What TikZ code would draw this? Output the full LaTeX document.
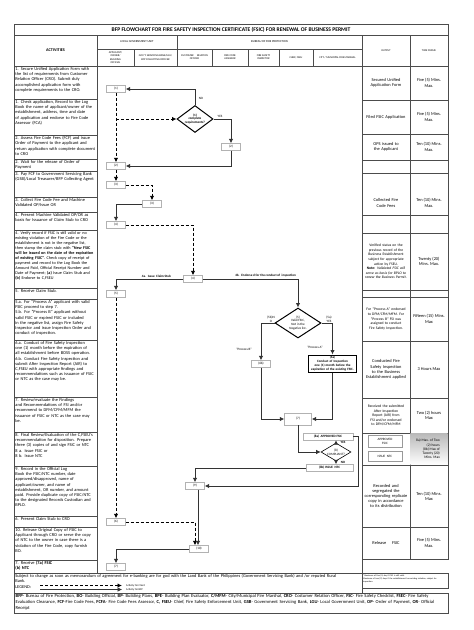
\documentclass[tikz,border=0pt]{standalone}
\usepackage{fontspec}
\setmainfont{Carlito}
\usetikzlibrary{shapes.geometric, arrows.meta, positioning, calc}
\hyphenpenalty=10000
\exhyphenpenalty=10000
\newcommand{\acttext}{\fontsize{4.4}{5.2}\selectfont}
\newcommand{\flowtext}{\fontsize{3.3}{3.9}\selectfont}
\newcommand{\headtext}{\fontsize{2.7}{3.2}\selectfont}
\newcommand{\notetext}{\fontsize{2.2}{2.7}\selectfont}

\begin{document}
\begin{tikzpicture}[x=1pt, y=-1pt,
  gridline/.style={draw=black!70, line width=0.6pt},
  act/.style={anchor=north west, text width=80pt, align=left, inner sep=1.2pt, font=\acttext},
  outp/.style={text width=44pt, align=center, inner sep=0pt, font=\acttext},
  tframe/.style={align=center, inner sep=0pt, font=\acttext},
  colhead/.style={align=center, inner sep=0pt, font=\headtext},
  stepbox/.style={draw=black!30, fill=white, minimum width=19pt, minimum height=7pt, inner sep=0.5pt, font=\flowtext},
  decide/.style={diamond, draw, line width=1pt, inner sep=0pt, align=center, font=\flowtext},
  client/.style={densely dashed, line width=0.9pt, -{Latex[length=4.5pt, width=4.5pt]}},
  bfp/.style={line width=0.8pt, draw=black!80, -{Latex[length=4.5pt, width=4.5pt]}},
  lbl/.style={font=\flowtext, inner sep=0.5pt}
]
\useasboundingbox (0,0) rectangle (474,630);

\draw[gridline] (14,24) rectangle (448,35);
\node[font=\fontsize{5.6}{6.5}\selectfont\bfseries] (title) at (231,29.5) {BFP FLOWCHART FOR FIRE SAFETY INSPECTION CERTIFICATE (FSIC) FOR RENEWAL OF BUSINESS PERMIT};

\draw[gridline] (14,35) rectangle (448,66);
\draw[gridline] (97,35) -- (97,573) (177,35) -- (177,66) (362,35) -- (362,573) (410,35) -- (410,559);
\draw[gridline] (97,49) -- (362,49);
\foreach \x in {134,212,248,279,313} \draw[gridline] (\x,49) -- (\x,66);
\draw[gridline] (14,66) -- (14,573) -- (362,573);
\draw[gridline] (448,66) -- (448,559) -- (362,559);
\foreach \y in {99,135,159,171,197,212,230,288,299,340,397,432,466,516,527,560}
  \draw[gridline] (14,\y) -- (97,\y);
\foreach \y in {100,134,160,173,215,233,290,297,341,398,433,465,527}
  \draw[gridline] (362,\y) -- (448,\y);

\node[font=\fontsize{4.2}{5}\selectfont\bfseries] (hact) at (55.5,50.5) {ACTIVITIES};
\node[colhead, font=\fontsize{3}{3.5}\selectfont] (hlgu) at (137,42) {LOCAL GOVERNMENT UNIT};
\node[colhead, font=\fontsize{3}{3.5}\selectfont] (hbfp) at (269.5,42) {BUREAU OF FIRE PROTECTION};
\node[colhead] (happ) at (115.5,57.5) {APPLICANT/\\OWNER/\\BUILDING\\OFFICIAL};
\node[colhead] (hgsb) at (155.5,57.5) {GOV'T. SERVICING BANK/LGU/\\BFP COLLECTING OFFICER};
\node[colhead] (hcro) at (194.5,57.5) {CUSTOMER \quad RELATION\\OFFICER};
\node[colhead] (hfca) at (230,57.5) {FIRE CODE\\ASSESSOR};
\node[colhead] (hfsi) at (263.5,57.5) {FIRE SAFETY\\INSPECTOR};
\node[colhead] (hfseu) at (296,57.5) {CHIEF, FSEU};
\node[colhead] (hfm) at (337.5,57.5) {CITY / MUNICIPAL FIRE MARSHAL};
\node[colhead] (hout) at (386,50.5) {OUTPUT};
\node[colhead] (htime) at (429,50.5) {TIME FRAME};

\node[act] (a1) at (14,66) {1. Secure Unified Application Form with the list of requirements from Customer Relation Officer (CRO). Submit duly accomplished application form with complete requirements to the CRO.};
\node[act] (a2) at (14,99) {1. Check application, Record to the Log Book the name of applicant/owner of the establishment, address, time and date of application and endorse to Fire Code Assessor (FCA)};
\node[act] (a3) at (14,135) {2. Assess Fire Code Fees (FCF) and issue Order of Payment to the applicant and return application with complete document to CRO};
\node[act] (a4) at (14,159) {2. Wait for the release of Order of Payment};
\node[act] (a5) at (14,171) {3. Pay FCF to Government Servicing Bank (GSB)/Local Treasurer/BFP Collecting Agent};
\node[act] (a6) at (14,197) {3. Collect Fire Code Fee and Machine Validated OP/Issue OR};
\node[act] (a7) at (14,212) {4. Present Machine Validated OP/OR as basis for Issuance of Claim Stub to CRO};
\node[act, font=\fontsize{4.2}{5}\selectfont] (a8) at (14,230) {4. Verify record if FSIC is still valid or no existing violation of the Fire Code or the establishment is not in the negative list, then stamp the claim stub with \textbf{``New FSIC will be issued on the date of the expiration of existing FSIC''}. Check copy of receipt of payment and record to the Log Book the Amount Paid, Official Receipt Number and Date of Payment; \textbf{(a)} Issue Claim Stub and \textbf{(b)} Endorse to C,FSEU};
\node[act] (a9) at (14,288) {5. Receive Claim Stub.};
\node[act] (a10) at (14,299) {5.a. For ``Process A'' applicant with valid FSIC proceed to step 7.\\5.b. For ``Process B'' applicant without valid FSIC or expired FSIC or included in the negative list, assign Fire Safety Inspector and issue Inspection Order and conduct of inspection.};
\node[act] (a11) at (14,340) {6.a. Conduct of Fire Safety Inspection one (1) month before the expiration of all establishment before BOSS operation.\\6.b. Conduct Fire Safety Inspection and submit After Inspection Report (AIR) to C,FSEU with appropriate findings and recommendations such as issuance of FSIC or NTC as the case may be.};
\node[act] (a12) at (14,397) {7. Review/evaluate the Findings and Recommendations of FSI and/or recommend to DFM/CFM/MFM the issuance of FSIC or NTC as the case may be.};
\node[act] (a13) at (14,432) {8. Final Review/Evaluation of the C,FSEU's recommendation for disposition. Prepare three (3) copies of and sign FSIC or NTC\\8 a. Issue FSIC or\\8 b. Issue NTC};
\node[act] (a14) at (14,466) {9. Record in the Official Log Book the FSIC/NTC number, date approved/disapproved, name of applicant/owner, and name of establishment, OR number, and amount paid. Provide duplicate copy of FSIC/NTC to the designated Records Custodian and BPLO.};
\node[act] (a15) at (14,516) {6. Present Claim Stub to CRO};
\node[act] (a16) at (14,527) {10. Release Original Copy of FSIC to Applicant through CRO or serve the copy of NTC to the owner in case there is a violation of the Fire Code, copy furnish BO.};
\node[act] (a17) at (14,560) {7. Receive \textbf{(7a) FSIC}\\\textbf{(b) NTC}};

\node[outp] (o1) at (386,83) {Secured Unified Application Form};
\node[tframe] (t1) at (429,83) {Five (5) Mins.\\Max.};
\node[outp] (o2) at (386,117) {Filed FSIC Application};
\node[tframe] (t2) at (429,117) {Five (5) Mins.\\Max.};
\node[outp] (o3) at (386,147) {OPS issued to the Applicant};
\node[tframe] (t3) at (429,147) {Ten (10) Mins.\\Max.};
\node[outp] (o5) at (386,203) {Collected Fire Code Fees};
\node[tframe] (t5) at (429,203) {Ten (10) Mins.\\Max.};
\node[outp, font=\fontsize{3.7}{4.6}\selectfont] (o7) at (386,261.5) {Verified status on the previous record of the Business Establishment subject for appropriate action by FSEU.\\\textbf{Note:} \textit{Validated FSIC will serve as basis for BPLO to renew the Business Permit.}};
\node[tframe] (t7) at (429,261.5) {Twenty (20)\\Mins. Max.};
\node[outp, font=\fontsize{3.7}{4.6}\selectfont] (o9) at (386,319) {For ``Process A'' endorsed to DFM/CFM/MFM. For ``Process B'' FSI was assigned to conduct Fire Safety Inspection.};
\node[tframe] (t9) at (429,319) {Fifteen (15) Mins.\\Max};
\node[outp] (o10) at (386,369.5) {Conducted Fire Safety Inspection to the Business Establishment applied};
\node[tframe] (t10) at (429,369.5) {3 Hours Max};
\node[outp, font=\fontsize{3.7}{4.6}\selectfont] (o11) at (386,415.5) {Received the submitted After Inspection Report (AIR) from FSI and/or endorsed to DFM/CFM/MFM};
\node[tframe] (t11) at (429,415.5) {Two (2) hours\\Max};
\node[draw=black!40, minimum width=34pt, minimum height=12pt, inner sep=0.5pt, align=center, font=\flowtext] (apfsic) at (385,441) {APPROVED\\FSIC};
\node[draw=black!40, minimum width=34pt, minimum height=10pt, inner sep=0.5pt, font=\flowtext] (isntc) at (385,456.5) {ISSUE \ NTC};
\shade[top color=gray!55, bottom color=white] (410.3,433.3) rectangle (447.7,464.7);
\node[tframe, align=right, font=\fontsize{3.6}{4.3}\selectfont] (t12) at (428,449) {8a) Max. of Two\\(2) hours\\(8b) Max of\\Twenty (20)\\Mins. Max};
\node[outp] (o13) at (386,496) {Recorded and segregated the corresponding replicate copy in accordance to its distribution};
\node[tframe] (t13) at (429,496) {Ten (10) Mins.\\Max};
\node[outp] (o14) at (386,543) {Release \quad FSIC};
\node[tframe] (t14) at (429,543) {Five (5) Mins.\\Max.};

\node[stepbox] (b1) at (116,89) {(1)};
\node[decide, aspect=1.4, minimum width=36pt, minimum height=27pt, font=\flowtext\bfseries] (d1) at (195,119) {(1)\\complete\\requirements?};
\node[stepbox] (fca2) at (231,147) {(2)};
\node[stepbox] (b2) at (116,166) {(2)};
\node[stepbox] (b3) at (116,185) {(3)};
\node[stepbox] (gsb3) at (152,204) {(3)};
\node[stepbox] (b4) at (116,225) {(4)};
\node[stepbox] (cro4) at (193,279) {(4)};
\node[stepbox] (b5) at (116,294) {(5)};
\node[decide, aspect=1.5, minimum width=46pt, minimum height=30pt] (d5) at (298,323) {(5)\\Valid FSIC,\\Not in the\\Negative list.};
\node[stepbox] (b6b) at (261,364) {(6b)};
\node[draw, line width=0.9pt, text width=46pt, align=center, inner sep=1.2pt, font=\flowtext\bfseries] (b6a) at (332.5,363.5) {(6a)\\Conduct of Inspection one (1) month before the expiration of the existing FSIC.};
\node[stepbox, minimum width=27pt, minimum height=12pt] (b7) at (298,419) {(7)};
\node[decide, line width=0.6pt, aspect=1.6, minimum width=30pt, minimum height=18pt] (d8) at (336,452) {(8)\\COMPLIANT?};
\node[stepbox, minimum width=50pt, font=\flowtext\bfseries] (b8a) at (328,436.5) {(8a) \ APPROVED FSIC};
\node[stepbox, minimum width=47pt, font=\flowtext\bfseries] (b8b) at (329.5,468) {(8b) ISSUE \ NTC};
\node[stepbox] (b9) at (195,486) {(9)};
\node[stepbox] (b6) at (116,522) {(6)};
\node[stepbox] (b10) at (199,549) {(10)};
\node[stepbox] (b7c) at (116,567) {(7)};

\draw[client] (b1) -- (b2);
\draw[client] (b1.south |- d1.west) -- (d1.west);
\draw[bfp] (d1.north) |- (b1.east);
\node[lbl] (no1) at (201,98) {NO};
\draw[bfp] (d1.east) -| (fca2.north);
\node[lbl] (yes1) at (220,116) {YES};
\draw[bfp] (fca2.south) |- (b2.east);
\draw[client] (b2) -- (b3);
\draw[client] (b3.east) -| (gsb3.north);
\draw[bfp] (gsb3.west) -| (b4.north);
\draw[client] (b4.east) -| (cro4.north);
\draw[bfp] (cro4.west) -| (b5.north) node[lbl, pos=0.2, above=1pt, font=\flowtext\bfseries] {4a. \ Issue \ Claim Stub};
\draw[bfp] (cro4.east) -| (d5.north) node[lbl, pos=0.33, above=1pt, font=\flowtext\bfseries] {4b. \ Endorse d for the conduct of \ inspection};
\draw[bfp] (d5.west) -| (b6b.north);
\node[lbl, align=center] (no5) at (271,319) {(5b)N\\O};
\node[lbl] (procb) at (244,349) {``Process B''};
\draw[bfp] (d5.east) -| (b6a.north);
\node[lbl, align=center] (yes5) at (329,319) {(5a)\\YES};
\node[lbl] (proca) at (315,347) {``Process A''};
\draw[bfp] (b6b.south) |- (b7.west);
\draw[bfp] (b6a.south) |- (b7.east);
\draw[bfp] (b7.south) |- (d8.west);
\draw[bfp] (d8.north) -- (d8.north |- b8a.south);
\node[lbl, font=\flowtext\bfseries] (yes8) at (343,442) {YES};
\draw[bfp] (d8.south) -- (d8.south |- b8b.north);
\node[lbl, font=\flowtext\bfseries] (no8) at (343,462) {NO};
\draw[bfp] (b8a.east) -- ++(5,0) |- (b9.east);
\draw[bfp] (b8b.west) -| (b9.north);
\draw[client] (b5) -- (b6);
\draw[client] (b6.east) -| ([xshift=-4pt]b10.north);
\draw[bfp] ([xshift=3pt]b9.south) -- ([xshift=3pt]b9.south |- b10.north);
\draw[bfp] (b10.west) -| (b7c.north);

\draw[gridline] (14,573) rectangle (362,593);
\node[anchor=north west, text width=322pt, inner sep=1.2pt, font=\acttext] (subj) at (14,573) {Subject to change as soon as memorandum of agreement for e-banking are for god with the Land Bank of the Philippines (Government Servicing Bank) and /or reputed Rural Bank.};
\node[anchor=west, inner sep=1.2pt, font=\acttext] (legend) at (14,587) {LEGEND:};
\coordinate (lgc1) at (40,585.5);
\coordinate (lgc2) at (122,585.5);
\coordinate (lgb1) at (40,589.5);
\coordinate (lgb2) at (122,589.5);
\draw[client] (lgc1) -- (lgc2);
\draw[bfp, line width=0.5pt] (lgb1) -- (lgb2);
\node[anchor=west, inner sep=0pt, font=\headtext] (lgct) at (126,585.5) {Activity for Client};
\node[anchor=west, inner sep=0pt, font=\headtext] (lgbt) at (126,589.5) {Activity for BFP};
\draw[gridline] (362,573) rectangle (448,588);
\node[anchor=north west, text width=84pt, inner sep=1pt, font=\notetext] (fnote) at (362,574) {*Maximum of five (5) day if FSIC is still valid.\\*Maximum of two (2) days if the establishment has existing violation, subject for inspection.};
\draw[gridline] (14,593) rectangle (448,613);
\node[anchor=north west, text width=430pt, inner sep=1.5pt, font=\fontsize{4.6}{5.6}\selectfont] (abbr) at (14,593) {\textbf{BFP}- Bureau of Fire Protection, \textbf{BO}- Building Official, \textbf{BP}- Building Plans, \textbf{BPE}- Building Plan Evaluator, \textbf{C/MFM}- City/Municipal Fire Marshal, \textbf{CRO}- Costumer Relation Officer, \textbf{FSC}- Fire Safety Checklist, \textbf{FSEC}- Fire Safety Evaluation Clearance, \textbf{FCF}-Fire Code Fees, \textbf{FCFA}- Fire Code Fees Assessor, \textbf{C, FSEU}- Chief, Fire Safety Enforcement Unit, \textbf{GSB}- Government Servicing Bank, \textbf{LGU}- Local Government Unit, \textbf{OP}- Order of Payment, \textbf{OR}- Official Receipt};
\end{tikzpicture}
\end{document}
